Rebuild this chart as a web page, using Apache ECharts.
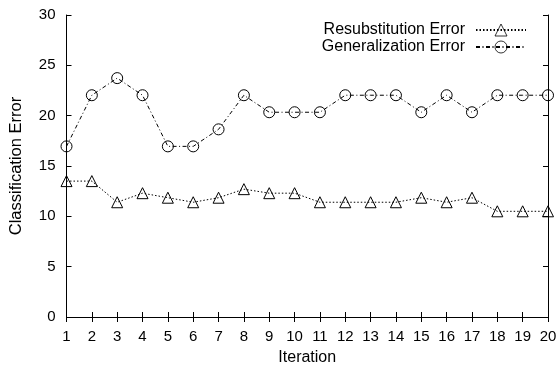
<!DOCTYPE html>
<html><head><meta charset="utf-8">
<script src="https://cdn.jsdelivr.net/npm/echarts@6/dist/echarts.min.js"></script>
<style>html,body{margin:0;padding:0;background:#fff}#c{width:560px;height:365px}</style>
</head><body><div id="c"></div>
<script>
const iterations = ['1','2','3','4','5','6','7','8','9','10','11','12','13','14','15','16','17','18','19','20'];
const resubstitution = [13.5, 13.5, 11.4, 12.3, 11.85, 11.4, 11.85, 12.7, 12.3, 12.3, 11.4, 11.4, 11.4, 11.4, 11.85, 11.4, 11.85, 10.5, 10.5, 10.5];
const generalization = [16.95, 22.03, 23.73, 22.03, 16.95, 16.95, 18.64, 22.03, 20.34, 20.34, 20.34, 22.03, 22.03, 22.03, 20.34, 22.03, 20.34, 22.03, 22.03, 22.03];
const seriesNames = ['Resubstitution Error', 'Generalization Error'];
const yTicks = {min: 0, max: 30, interval: 5};

const font = 'Liberation Sans, Arial, Helvetica, sans-serif';
const chart = echarts.init(document.getElementById('c'), null, {renderer: 'canvas'});
const axisLine = {show: true, lineStyle: {color: '#000', width: 1}};
const tick = {show: true, inside: true, length: 5, lineStyle: {color: '#000', width: 1}};
const markerStyle = {color: 'rgba(0,0,0,0)', borderColor: '#000', borderWidth: 1};
chart.setOption({
  animation: false,
  backgroundColor: '#fff',
  textStyle: {fontFamily: font},
  grid: {left: 66.5, right: 12, top: 15, bottom: 48, containLabel: false, outerBoundsMode: 'none'},
  legend: {
    orient: 'vertical', right: 33, top: 22, align: 'right', padding: 0,
    itemWidth: 50, itemHeight: 15, itemGap: 1,
    itemStyle: {color: 'rgba(0,0,0,0)', borderColor: '#000', borderWidth: 0.8},
    textStyle: {fontFamily: font, fontSize: 16, lineHeight: 16, color: '#000', padding: [0, 6, 0, 0]},
    data: seriesNames
  },
  xAxis: [{
    type: 'category', data: iterations, boundaryGap: false,
    name: 'Iteration', nameLocation: 'middle', nameGap: 33,
    nameTextStyle: {fontFamily: font, fontSize: 16, color: '#000'},
    axisLine: axisLine, axisTick: Object.assign({alignWithLabel: true}, tick),
    axisLabel: {fontFamily: font, fontSize: 15, color: '#000', margin: 12, interval: 0},
    splitLine: {show: false}
  }, {
    type: 'category', data: iterations, boundaryGap: false, position: 'top',
    axisLine: axisLine, axisTick: tick, axisLabel: {show: false}, splitLine: {show: false}
  }],
  yAxis: [{
    type: 'value', min: yTicks.min, max: yTicks.max, interval: yTicks.interval,
    name: 'Classification Error', nameLocation: 'middle', nameGap: 42, nameRotate: 90,
    nameTextStyle: {fontFamily: font, fontSize: 16.5, color: '#000'},
    axisLine: axisLine, axisTick: tick,
    axisLabel: {fontFamily: font, fontSize: 15, color: '#000', margin: 11},
    splitLine: {show: false}
  }, {
    type: 'value', min: yTicks.min, max: yTicks.max, interval: yTicks.interval, position: 'right',
    axisLine: axisLine, axisTick: tick, axisLabel: {show: false}, splitLine: {show: false}
  }],
  series: [{
    name: seriesNames[0], type: 'line', data: resubstitution,
    symbol: 'triangle', symbolSize: 11, showAllSymbol: true,
    lineStyle: {color: '#000', width: 1, type: [1.5, 2]},
    itemStyle: markerStyle
  }, {
    name: seriesNames[1], type: 'line', data: generalization,
    symbol: 'circle', symbolSize: 11, showAllSymbol: true,
    lineStyle: {color: '#000', width: 1, type: [4, 2.5, 1, 2.5]},
    itemStyle: markerStyle
  }]
});
</script></body></html>
